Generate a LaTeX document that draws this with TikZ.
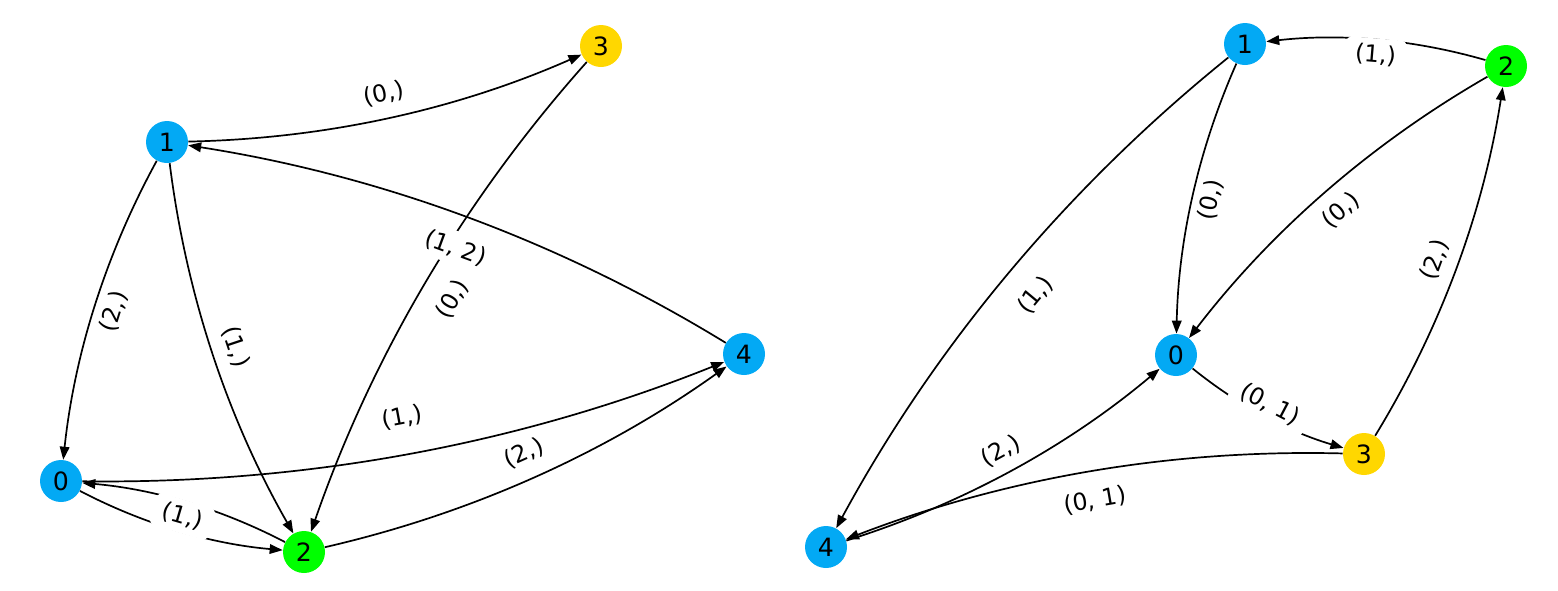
\documentclass[tikz,border=0pt]{standalone}
\usepackage{fontspec}
\setmainfont{DejaVu Sans}
\usetikzlibrary{arrows.meta}
\definecolor{nblue}{RGB}{3,169,244}
\definecolor{ngreen}{RGB}{0,255,0}
\definecolor{ngold}{RGB}{255,215,0}
\begin{document}
\begin{tikzpicture}[x=0.5pt,y=-0.5pt,
  vert/.style={circle,minimum size=21pt,inner sep=0pt,font=\fontsize{12.6}{14}\selectfont},
  edge/.style={-{Triangle[length=6.5pt,width=4.8pt]},line width=0.85pt,bend right=11.3,looseness=0.87},
  lbl/.style={sloped,fill=white,rounded corners=3pt,inner xsep=5pt,inner ysep=3pt,font=\fontsize{11.8}{13}\selectfont}]
\useasboundingbox (0,0) rectangle (1558,590);
% left graph
\node[vert,fill=ngold]  (L3) at (601,46)  {3};
\node[vert,fill=nblue]  (L1) at (167,142) {1};
\node[vert,fill=nblue]  (L4) at (744,354) {4};
\node[vert,fill=nblue]  (L0) at (61,481)  {0};
\node[vert,fill=ngreen] (L2) at (304,552) {2};
% right graph
\node[vert,fill=nblue]  (R1) at (1245,44)  {1};
\node[vert,fill=ngreen] (R2) at (1506,66)  {2};
\node[vert,fill=nblue]  (R0) at (1176,355) {0};
\node[vert,fill=ngold]  (R3) at (1364,454) {3};
\node[vert,fill=nblue]  (R4) at (826,547)  {4};
% left edges
\draw[edge] (L1) to (L3);
\draw[edge] (L1) to (L0);
\draw[edge] (L1) to (L2);
\draw[edge] (L3) to (L2);
\draw[edge] (L4) to (L1);
\draw[edge] (L0) to (L4);
\draw[edge] (L2) to (L4);
\draw[edge] (L0) to (L2);
\draw[edge] (L2) to (L0);
% right edges
\draw[edge] (R2) to (R1);
\draw[edge] (R1) to (R0);
\draw[edge] (R2) to (R0);
\draw[edge] (R1) to (R4);
\draw[edge] (R3) to (R2);
\draw[edge] (R0) to (R3);
\draw[edge] (R3) to (R4);
\draw[edge] (R4) to (R0);
% left labels
\path (L1) -- node[lbl] {(0,)} (L3);
\path (L1) -- node[lbl] {(2,)} (L0);
\path (L1) -- node[lbl] {(1,)} (L2);
\path (L3) -- node[lbl] {(0,)} (L2);
\path (L4) -- node[lbl] {(1, 2)} (L1);
\path (L0) -- node[lbl] {(1,)} (L4);
\path (L2) -- node[lbl] {(2,)} (L4);
\path (L0) -- node[lbl] {(1,)} (L2);
% right labels
\path (R2) -- node[lbl] {(1,)} (R1);
\path (R1) -- node[lbl] {(0,)} (R0);
\path (R2) -- node[lbl] {(0,)} (R0);
\path (R1) -- node[lbl] {(1,)} (R4);
\path (R3) -- node[lbl] {(2,)} (R2);
\path (R0) -- node[lbl] {(0, 1)} (R3);
\path (R3) -- node[lbl] {(0, 1)} (R4);
\path (R4) -- node[lbl] {(2,)} (R0);
\end{tikzpicture}
\end{document}
